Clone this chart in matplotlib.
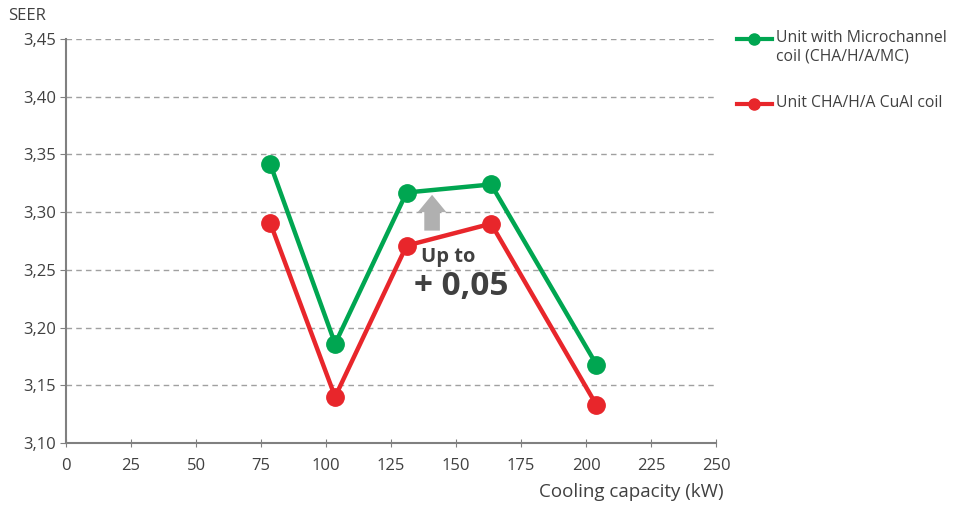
import matplotlib
matplotlib.use("Agg")
import matplotlib.pyplot as plt
from matplotlib.lines import Line2D
from matplotlib.patches import FancyArrow

plt.rcParams['font.family'] = ['Open Sans', 'DejaVu Sans']

capacity = [78.5, 103.5, 131, 163.5, 204]
seer_mc = [3.342, 3.186, 3.317, 3.324, 3.168]
seer_cual = [3.291, 3.140, 3.271, 3.290, 3.133]
series_names = ["Unit with Microchannel\ncoil (CHA/H/A/MC)", "Unit CHA/H/A CuAl coil"]
x_ticks = [0, 25, 50, 75, 100, 125, 150, 175, 200, 225, 250]
y_ticks = [3.10, 3.15, 3.20, 3.25, 3.30, 3.35, 3.40, 3.45]

green = "#00a651"
red = "#e8262b"
txt = "#404040"
axc = "#808080"

fig = plt.figure(figsize=(9.55, 5.07), dpi=100)
ax = fig.add_axes([66/955, 1-443/507, 650/955, 404/507])

ax.plot(capacity, seer_mc, color=green, lw=3.2, marker='o', ms=12.5, zorder=3)
ax.plot(capacity, seer_cual, color=red, lw=3.2, marker='o', ms=12.5, zorder=3)

ax.set_xlim(0, 250)
ax.set_ylim(3.10, 3.45)
ax.set_xticks(x_ticks)
ax.set_yticks(y_ticks)
ax.set_yticklabels([f"{v:.2f}".replace('.', ',') for v in y_ticks])
ax.set_xticklabels([str(v) for v in x_ticks])
ax.yaxis.grid(True, ls=(0, (4, 3)), color="#a0a0a0", lw=1)
ax.set_axisbelow(True)
for s in ['top', 'right']:
    ax.spines[s].set_visible(False)
for s in ['left', 'bottom']:
    ax.spines[s].set_color(axc)
    ax.spines[s].set_linewidth(1.5)
ax.tick_params(axis='x', direction='inout', length=6, color=axc, labelsize=12, labelcolor=txt, pad=8)
ax.tick_params(axis='y', direction='out', length=4, color=axc, labelsize=12, labelcolor=txt, pad=3)

# arrow
ax.add_patch(FancyArrow(140.8, 3.284, 0, 0.031, width=6, head_width=11, head_length=0.015,
                        length_includes_head=True, color="#b0b0b0", lw=0, zorder=2))
ax.text(147, 3.261, "Up to", ha='center', va='center', fontsize=14.5, fontweight='bold', color=txt)
ax.text(152, 3.236, "+ 0,05", ha='center', va='center', fontsize=24, fontweight='bold', color=txt)

fig.text(8/955, 1-16/507, "SEER", ha='left', va='center', fontsize=12, color=txt)
fig.text(724/955, 1-492/507, "Cooling capacity (kW)", ha='right', va='center', fontsize=13.5, color=txt)

# legend
for yy, col, name in [(39, green, series_names[0]), (104, red, series_names[1])]:
    fig.add_artist(Line2D([737/955, 772/955], [1-yy/507, 1-yy/507], color=col, lw=3,
                          transform=fig.transFigure))
    fig.add_artist(Line2D([754/955], [1-yy/507], color=col, marker='o', ms=8,
                          transform=fig.transFigure))
    fig.text(776/955, 1-(yy-9)/507, name, ha='left', va='top', fontsize=11.3, color=txt,
             linespacing=1.2)

fig.savefig("out.png", dpi=100)
